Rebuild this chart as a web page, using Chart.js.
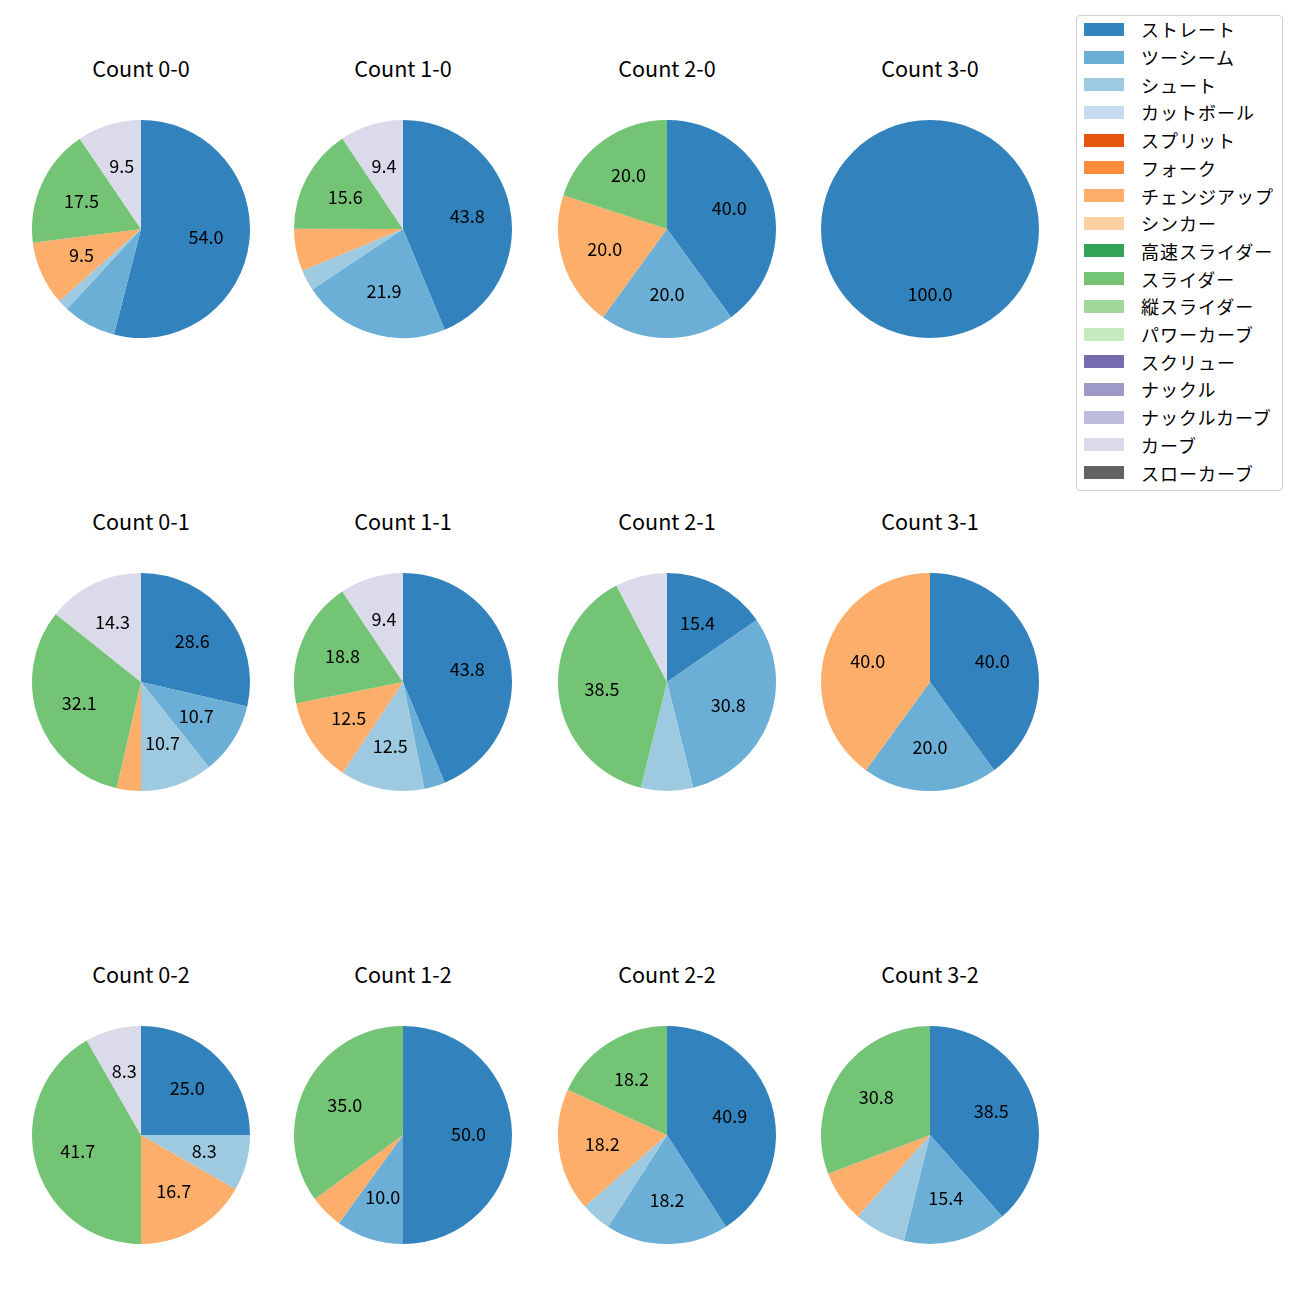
<!DOCTYPE html>
<html>
<head>
<meta charset="utf-8">
<script src="https://cdn.jsdelivr.net/npm/chart.js@4/dist/chart.umd.min.js"></script>
<style>
  html, body { margin: 0; padding: 0; background: #ffffff; }
  body { width: 1300px; height: 1300px; position: relative; overflow: hidden;
         font-family: "Noto Sans CJK JP", "Noto Sans", sans-serif; color: #000; }
  .pie { position: absolute; }
  .title { position: absolute; width: 240px; height: 26px; line-height: 26px; text-align: center;
           font-size: 21.6px; color: #000; }
  #legend { position: absolute; left: 1076px; top: 15px; width: 205px; height: 474px;
            border: 1px solid #d0d0d0; border-radius: 4px; background: #fff; box-sizing: content-box; }
  .lg-patch { position: absolute; left: 7px; width: 40px; height: 13px; }
  .lg-text { position: absolute; left: 64px; white-space: nowrap; font-size: 18px; line-height: 22px;
             letter-spacing: 1px; color: #000; }
</style>
</head>
<body>
<div id="legend"></div>
<script>
// ---- data ----
const pitchTypes = ["ストレート","ツーシーム","シュート","カットボール","スプリット","フォーク","チェンジアップ","シンカー","高速スライダー","スライダー","縦スライダー","パワーカーブ","スクリュー","ナックル","ナックルカーブ","カーブ","スローカーブ"];
const pitchColors = ["#3182bd","#6baed6","#9ecae1","#c6dbef","#e6550d","#fd8d3c","#fdae6b","#fdd0a2","#31a354","#74c476","#a1d99b","#c7e9c0","#756bb1","#9e9ac8","#bcbddc","#dadaeb","#636363"];
const countTitles = ["Count 0-0","Count 1-0","Count 2-0","Count 3-0","Count 0-1","Count 1-1","Count 2-1","Count 3-1","Count 0-2","Count 1-2","Count 2-2","Count 3-2"];
//               ストレ ツー  シュ  カット スプ フォ チェンジ シンカ 高速 スライ 縦   パワ スク ナク ナクカ カーブ スロー
const count00 = [54.0, 7.9, 1.6, 0, 0, 0, 9.5, 0, 0, 17.5, 0, 0, 0, 0, 0, 9.5, 0];
const count10 = [43.8, 21.9, 3.1, 0, 0, 0, 6.3, 0, 0, 15.6, 0, 0, 0, 0, 0, 9.4, 0];
const count20 = [40.0, 20.0, 0, 0, 0, 0, 20.0, 0, 0, 20.0, 0, 0, 0, 0, 0, 0, 0];
const count30 = [100.0, 0, 0, 0, 0, 0, 0, 0, 0, 0, 0, 0, 0, 0, 0, 0, 0];
const count01 = [28.6, 10.7, 10.7, 0, 0, 0, 3.6, 0, 0, 32.1, 0, 0, 0, 0, 0, 14.3, 0];
const count11 = [43.8, 3.1, 12.5, 0, 0, 0, 12.5, 0, 0, 18.8, 0, 0, 0, 0, 0, 9.4, 0];
const count21 = [15.4, 30.8, 7.7, 0, 0, 0, 0, 0, 0, 38.5, 0, 0, 0, 0, 0, 7.7, 0];
const count31 = [40.0, 20.0, 0, 0, 0, 0, 40.0, 0, 0, 0, 0, 0, 0, 0, 0, 0, 0];
const count02 = [25.0, 0, 8.3, 0, 0, 0, 16.7, 0, 0, 41.7, 0, 0, 0, 0, 0, 8.3, 0];
const count12 = [50.0, 10.0, 0, 0, 0, 0, 5.0, 0, 0, 35.0, 0, 0, 0, 0, 0, 0, 0];
const count22 = [40.9, 18.2, 4.5, 0, 0, 0, 18.2, 0, 0, 18.2, 0, 0, 0, 0, 0, 0, 0];
const count32 = [38.5, 15.4, 7.7, 0, 0, 0, 7.7, 0, 0, 30.8, 0, 0, 0, 0, 0, 0, 0];
const countData = [count00, count10, count20, count30, count01, count11, count21, count31, count02, count12, count22, count32];
const labelThreshold = 8;

// ---- layout ----
const colCenters = [141, 403, 667, 930];
const rowCenters = [229, 682, 1135];
const titleOffset = 161; // title center above pie center
const R = 109;
const canvasSize = 2 * R + 20;

const pctLabels = {
  id: 'pctLabels',
  afterDatasetsDraw(chart) {
    const ctx = chart.ctx;
    const meta = chart.getDatasetMeta(0);
    const values = chart.data.datasets[0].data;
    const total = values.reduce((a, b) => a + b, 0);
    ctx.save();
    ctx.fillStyle = '#000';
    ctx.font = '18px "Noto Sans CJK JP", "Noto Sans", sans-serif';
    ctx.textAlign = 'center';
    ctx.textBaseline = 'middle';
    meta.data.forEach((arc, i) => {
      const v = values[i];
      if (!v) return;
      const pct = v / total * 100;
      if (pct < labelThreshold) return;
      const p = arc.getProps(['x', 'y', 'startAngle', 'endAngle', 'outerRadius'], true);
      const mid = (p.startAngle + p.endAngle) / 2;
      const d = p.outerRadius * 0.6;
      let x = p.x + Math.cos(mid) * d;
      let y = p.y + Math.sin(mid) * d;
      if (pct >= 99.99) { x = p.x; y = p.y + d; }
      ctx.fillText(v.toFixed(1), x, y - 0.5);
    });
    ctx.restore();
  }
};

countData.forEach((vals, idx) => {
  const col = idx % 4, row = Math.floor(idx / 4);
  const cx = colCenters[col], cy = rowCenters[row];
  const cv = document.createElement('canvas');
  cv.className = 'pie';
  cv.width = canvasSize; cv.height = canvasSize;
  cv.style.left = (cx - canvasSize / 2) + 'px';
  cv.style.top = (cy - canvasSize / 2) + 'px';
  cv.style.width = canvasSize + 'px';
  cv.style.height = canvasSize + 'px';
  document.body.appendChild(cv);

  const t = document.createElement('div');
  t.className = 'title';
  t.textContent = countTitles[idx];
  t.style.left = (cx - 120) + 'px';
  t.style.top = (cy - titleOffset - 13) + 'px';
  document.body.appendChild(t);

  new Chart(cv, {
    type: 'pie',
    data: {
      labels: pitchTypes,
      datasets: [{ data: vals, backgroundColor: pitchColors, borderWidth: 0 }]
    },
    options: {
      responsive: false,
      devicePixelRatio: 1,
      animation: false,
      layout: { padding: 10 },
      plugins: { legend: { display: false }, tooltip: { enabled: false }, title: { display: false } }
    },
    plugins: [pctLabels]
  });
});

// ---- legend ----
const legend = document.getElementById('legend');
const legendStep = 27.7;
pitchTypes.forEach((name, i) => {
  const cyL = 29.3 + i * legendStep - 16; // relative to legend box top
  const patch = document.createElement('div');
  patch.className = 'lg-patch';
  patch.style.top = (cyL - 6.5) + 'px';
  patch.style.background = pitchColors[i];
  legend.appendChild(patch);
  const tx = document.createElement('div');
  tx.className = 'lg-text';
  tx.style.top = (cyL - 11) + 'px';
  tx.textContent = name;
  legend.appendChild(tx);
});
</script>
</body>
</html>
